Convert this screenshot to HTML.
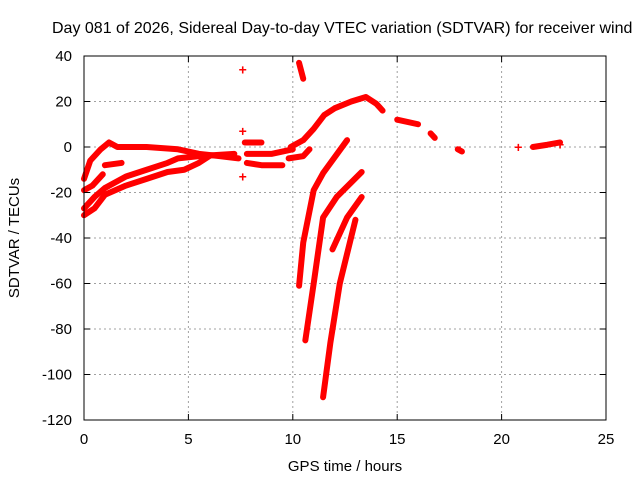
<!DOCTYPE html>
<html><head><meta charset="utf-8"><style>
html,body{margin:0;padding:0;background:#fff;width:640px;height:480px;overflow:hidden}
text{font-family:"Liberation Sans",sans-serif;font-size:15px;fill:#000}
</style></head><body>
<svg id="chart" width="640" height="480" xmlns="http://www.w3.org/2000/svg">
<text x="52" y="33" style="font-size:16px">Day 081 of 2026, Sidereal Day-to-day VTEC variation (SDTVAR) for receiver wind</text>
<g id="grid"></g>
<g id="marks"></g>
<rect x="84" y="56" width="522" height="364" fill="none" stroke="#000" stroke-width="1"/>
<g id="axes"></g>
<text x="345" y="471" text-anchor="middle">GPS time / hours</text>
<text x="0" y="0" text-anchor="middle" transform="translate(19,238) rotate(-90)">SDTVAR / TECUs</text>
</svg>
<script>
const xTicks=[0,5,10,15,20,25];
const yTicks=[40,20,0,-20,-40,-60,-80,-100,-120];
// series: arrays of [hour, value]
const seriesMain=[[0,-14],[0.3,-6],[0.8,-1],[1.2,2],[1.6,0],[3,0],[4.5,-1],[5.5,-3],[6.5,-4],[7.4,-5]];
const seriesB=[[0,-27],[0.5,-22],[1,-18],[2,-13],[3,-10],[4,-7],[4.5,-5],[5.5,-4],[7.2,-3]];
const seriesC=[[0,-30],[0.5,-27],[1,-21],[2,-17],[3,-14],[4,-11],[4.8,-10],[5.5,-7],[6,-4]];
const seriesD=[[0,-19],[0.4,-17],[0.9,-12]];
const seriesE=[[1,-8],[1.8,-7]];
const seriesF=[[7.7,2],[8.5,2]];
const seriesG=[[7.8,-3],[9,-3],[10,-1]];
const seriesH=[[7.8,-7],[8.5,-8],[9.5,-8]];
const seriesRise=[[9.9,0],[10.5,3],[11,8],[11.5,14],[12,17],[12.8,20],[13.5,22],[14,19],[14.3,16]];
const seriesI=[[9.8,-5],[10.5,-4],[10.8,-1]];
const seriesTop=[[10.3,37],[10.5,30]];
const seriesFall1=[[10.3,-61],[10.5,-42],[11,-19],[11.45,-11.5],[12.6,3]];
const seriesFall2=[[10.6,-85],[11,-60],[11.45,-31],[12.1,-22],[13.3,-11]];
const seriesFall3=[[11.45,-110],[11.8,-86],[12.25,-60],[13,-32]];
const seriesFall4=[[11.9,-45],[12.6,-31],[13.3,-22]];
const seriesR1=[[15,12],[16,10]];
const seriesR2=[[16.6,6],[16.8,4]];
const seriesR3=[[17.9,-1],[18.1,-2]];
const seriesR4=[[21.5,0],[22.2,1],[22.8,2]];
const points=[[7.6,34],[7.6,7],[7.6,-13],[18,-1],[20.8,0],[22.8,1]];
const allSeries=[seriesMain,seriesB,seriesC,seriesD,seriesE,seriesF,seriesG,seriesH,seriesRise,seriesI,seriesTop,seriesFall1,seriesFall2,seriesFall3,seriesFall4,seriesR1,seriesR2,seriesR3,seriesR4];
const X0=84,X1=606,Y0=420,Y1=56;
function sx(v){return X0+(v-0)/(25-0)*(X1-X0);}
function sy(v){return Y0-(v+120)/(160)*(Y0-Y1);}
const NS="http://www.w3.org/2000/svg";
const grid=document.getElementById('grid'),axes=document.getElementById('axes'),marks=document.getElementById('marks');
function mk(t,a,p){const e=document.createElementNS(NS,t);for(const k in a)e.setAttribute(k,a[k]);p.appendChild(e);return e;}
xTicks.forEach(t=>{
 if(t>0&&t<25){const g=mk('line',{x1:sx(t),x2:sx(t),y1:Y1,y2:Y0,stroke:'#a0a0a0','stroke-dasharray':'2,3'},grid);
 
 }
 const l=mk('text',{x:sx(t),y:444,'text-anchor':'middle'},axes);l.textContent=t;
 
 
 mk('line',{x1:sx(t),x2:sx(t),y1:Y0,y2:Y0-6,stroke:'#000'},axes);
 mk('line',{x1:sx(t),x2:sx(t),y1:Y1,y2:Y1+6,stroke:'#000'},axes);
});
yTicks.forEach(t=>{
 if(t>-120&&t<40){const g=mk('line',{x1:X0,x2:X1,y1:sy(t),y2:sy(t),stroke:'#a0a0a0','stroke-dasharray':'2,3'},grid);
 
 }
 const l=mk('text',{x:72,y:sy(t)+5,'text-anchor':'end'},axes);l.textContent=t;
 
 
 mk('line',{x1:X0,x2:X0+6,y1:sy(t),y2:sy(t),stroke:'#000'},axes);
 mk('line',{x1:X1,x2:X1-6,y1:sy(t),y2:sy(t),stroke:'#000'},axes);
});
allSeries.forEach((s,i)=>{
 const p=mk('polyline',{points:s.map(d=>sx(d[0])+','+sy(d[1])).join(' '),fill:'none',stroke:'#ff0000','stroke-width':6,'stroke-linejoin':'round','stroke-linecap':'round'},marks);
 
 
});
points.forEach(d=>{
 const t=mk('text',{x:sx(d[0]),y:sy(d[1])+5,'text-anchor':'middle',style:'fill:#ff0000;font-size:14px;font-weight:bold'},marks);t.textContent='+';
 
 
});
</script>
</body></html>
